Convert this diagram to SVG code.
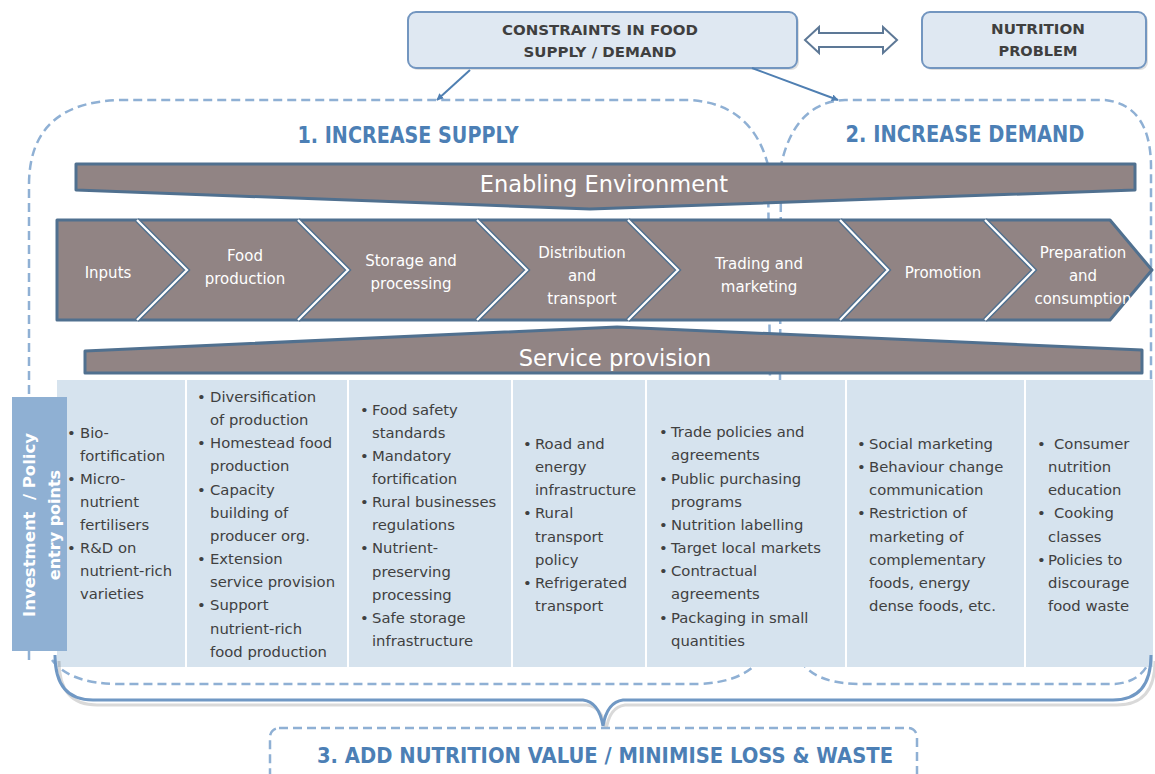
<svg xmlns="http://www.w3.org/2000/svg" width="1155" height="774" viewBox="0 0 1155 774">
<style>
.box{fill:#dfe8f2;stroke:#7396c0;stroke-width:2}
.boxt{font-family:"DejaVu Sans","Liberation Sans",sans-serif;font-weight:bold;font-size:14.5px;fill:#3f3f3f;text-anchor:middle}
.hdr{font-family:"DejaVu Sans","Liberation Sans",sans-serif;font-weight:bold;fill:#4c7fb5;text-anchor:middle}
.dash{fill:none;stroke:#8fb0d4;stroke-width:2.5;stroke-dasharray:9 5}
.bar{fill:#918484;stroke:#50708f;stroke-width:3;stroke-linejoin:round}
.bart{font-family:"DejaVu Sans","Liberation Sans",sans-serif;font-size:22.5px;fill:#ffffff;text-anchor:middle}
.sep1{fill:none;stroke:#50708f;stroke-width:5}
.sep2{fill:none;stroke:#ffffff;stroke-width:2.2}
.ct{font-family:"DejaVu Sans","Liberation Sans",sans-serif;font-size:15px;fill:#ffffff;text-anchor:middle}
.it{font-family:"DejaVu Sans","Liberation Sans",sans-serif;font-size:14.8px;fill:#404040}
.conn{fill:none;stroke:#4f7fb2;stroke-width:2}
.brace{fill:none;stroke:#7098c4;stroke-width:3}
</style>
<defs>
<marker id="ah" viewBox="0 0 10 10" refX="9" refY="5" markerWidth="7" markerHeight="7" orient="auto" markerUnits="userSpaceOnUse">
<path d="M0,0 L10,5 L0,10 z" fill="#4f7fb2"/>
</marker>
</defs>
<rect width="1155" height="774" fill="#ffffff"/>

<g id="regions">
<path class="dash" d="M29,660 L29,185 Q29,100 125,100 L690,100 Q752,104 768,165 L770,380"/>
<path class="dash" d="M780,380 L781,165 Q795,102 845,100 L1105,100 Q1150,105 1151,165 L1151,660"/>
<path class="dash" d="M52,660 Q70,684 120,684 L700,684 Q742,682 760,660"/>
<path class="dash" d="M800,660 Q815,684 860,684 L1115,684 Q1140,682 1149,662"/>
</g>

<g id="n_constraints">
<rect x="410" y="14" width="389" height="56" rx="8" fill="#000" opacity="0.12"/>
<rect class="box" x="408" y="12" width="389" height="56" rx="8"/>
<text class="boxt" x="600" y="35" textLength="196" lengthAdjust="spacingAndGlyphs">CONSTRAINTS IN FOOD</text>
<text class="boxt" x="600" y="57" textLength="153" lengthAdjust="spacingAndGlyphs">SUPPLY / DEMAND</text>
</g>
<g id="n_nutrition">
<rect x="924" y="14" width="224" height="56" rx="8" fill="#000" opacity="0.12"/>
<rect class="box" x="922" y="12" width="224" height="56" rx="8"/>
<text class="boxt" x="1038" y="34" textLength="94" lengthAdjust="spacingAndGlyphs">NUTRITION</text>
<text class="boxt" x="1038" y="56" textLength="79" lengthAdjust="spacingAndGlyphs">PROBLEM</text>
</g>

<g id="connectors">
<polygon points="805,40 819,27 819,33 883,33 883,27 897,40 883,53 883,47 819,47 819,53" fill="#ffffff" stroke="#5d7896" stroke-width="2" stroke-linejoin="miter"/>
<line class="conn" x1="470" y1="70" x2="437" y2="100" marker-end="url(#ah)"/>
<line class="conn" x1="752" y1="68" x2="838" y2="100" marker-end="url(#ah)"/>
</g>

<g id="n_supply">
<text class="hdr" x="408" y="143" font-size="23" textLength="221" lengthAdjust="spacingAndGlyphs">1. INCREASE SUPPLY</text>
</g>
<g id="n_demand">
<text class="hdr" x="965" y="142" font-size="23" textLength="239" lengthAdjust="spacingAndGlyphs">2. INCREASE DEMAND</text>
</g>

<g id="n_enabling">
<path class="bar" d="M76,164 L1135,164 L1135,190 L590,209 L76,190 Z"/>
<text class="bart" x="604" y="192">Enabling Environment</text>
</g>

<g id="n_chain">
<path class="bar" d="M57,220 L1110,220 L1152,270 L1110,320 L57,320 Z"/>
<polyline class="sep1" points="137,220 187,270 137,320"/>
<polyline class="sep2" points="137,220 187,270 137,320"/>
<polyline class="sep1" points="298,220 348,270 298,320"/>
<polyline class="sep2" points="298,220 348,270 298,320"/>
<polyline class="sep1" points="477,220 527,270 477,320"/>
<polyline class="sep2" points="477,220 527,270 477,320"/>
<polyline class="sep1" points="628,220 678,270 628,320"/>
<polyline class="sep2" points="628,220 678,270 628,320"/>
<polyline class="sep1" points="840,220 888,270 840,320"/>
<polyline class="sep2" points="840,220 888,270 840,320"/>
<polyline class="sep1" points="985,220 1034,270 985,320"/>
<polyline class="sep2" points="985,220 1034,270 985,320"/>
<text class="ct" x="108" y="278">Inputs</text>
<text class="ct" x="245" y="261">Food</text>
<text class="ct" x="245" y="284">production</text>
<text class="ct" x="411" y="266">Storage and</text>
<text class="ct" x="411" y="289">processing</text>
<text class="ct" x="582" y="258">Distribution</text>
<text class="ct" x="582" y="281">and</text>
<text class="ct" x="582" y="304">transport</text>
<text class="ct" x="759" y="269">Trading and</text>
<text class="ct" x="759" y="292">marketing</text>
<text class="ct" x="943" y="278">Promotion</text>
<text class="ct" x="1083" y="258">Preparation</text>
<text class="ct" x="1083" y="281">and</text>
<text class="ct" x="1083" y="304">consumption</text>
</g>

<g id="n_service">
<path class="bar" d="M85,351 L617,327 L1142,350 L1142,373 L85,373 Z"/>
<text class="bart" x="615" y="366">Service provision</text>
</g>

<g id="n_table">
<rect x="57" y="380" width="1096" height="287" fill="#d6e3ee"/>
<g stroke="#ffffff" stroke-width="2">
<line x1="186" y1="380" x2="186" y2="667"/>
<line x1="348" y1="380" x2="348" y2="667"/>
<line x1="512" y1="380" x2="512" y2="667"/>
<line x1="646" y1="380" x2="646" y2="667"/>
<line x1="846" y1="380" x2="846" y2="667"/>
<line x1="1025" y1="380" x2="1025" y2="667"/>
</g>
</g>

<g id="n_col1" class="it">
<text x="67" y="438">•</text><text x="80" y="438">Bio-</text>
<text x="80" y="461">fortification</text>
<text x="67" y="484">•</text><text x="80" y="484">Micro-</text>
<text x="80" y="507">nutrient</text>
<text x="80" y="530">fertilisers</text>
<text x="67" y="553">•</text><text x="80" y="553">R&amp;D on</text>
<text x="80" y="576">nutrient-rich</text>
<text x="80" y="599">varieties</text>
</g>
<g id="n_col2" class="it">
<text x="197" y="402">•</text><text x="210" y="402">Diversification</text>
<text x="210" y="425">of production</text>
<text x="197" y="448">•</text><text x="210" y="448">Homestead food</text>
<text x="210" y="471">production</text>
<text x="197" y="495">•</text><text x="210" y="495">Capacity</text>
<text x="210" y="518">building of</text>
<text x="210" y="541">producer org.</text>
<text x="197" y="564">•</text><text x="210" y="564">Extension</text>
<text x="210" y="587">service provision</text>
<text x="197" y="610">•</text><text x="210" y="610">Support</text>
<text x="210" y="634">nutrient-rich</text>
<text x="210" y="657">food production</text>
</g>
<g id="n_col3" class="it">
<text x="360" y="415">•</text><text x="372" y="415">Food safety</text>
<text x="372" y="438">standards</text>
<text x="360" y="461">•</text><text x="372" y="461">Mandatory</text>
<text x="372" y="484">fortification</text>
<text x="360" y="507">•</text><text x="372" y="507">Rural businesses</text>
<text x="372" y="530">regulations</text>
<text x="360" y="553">•</text><text x="372" y="553">Nutrient-</text>
<text x="372" y="577">preserving</text>
<text x="372" y="600">processing</text>
<text x="360" y="623">•</text><text x="372" y="623">Safe storage</text>
<text x="372" y="646">infrastructure</text>
</g>
<g id="n_col4" class="it">
<text x="523" y="449">•</text><text x="535" y="449">Road and</text>
<text x="535" y="472">energy</text>
<text x="535" y="495">infrastructure</text>
<text x="523" y="518">•</text><text x="535" y="518">Rural</text>
<text x="535" y="542">transport</text>
<text x="535" y="565">policy</text>
<text x="523" y="588">•</text><text x="535" y="588">Refrigerated</text>
<text x="535" y="611">transport</text>
</g>
<g id="n_col5" class="it">
<text x="659" y="437">•</text><text x="671" y="437">Trade policies and</text>
<text x="671" y="460">agreements</text>
<text x="659" y="484">•</text><text x="671" y="484">Public purchasing</text>
<text x="671" y="507">programs</text>
<text x="659" y="530">•</text><text x="671" y="530">Nutrition labelling</text>
<text x="659" y="553">•</text><text x="671" y="553">Target local markets</text>
<text x="659" y="576">•</text><text x="671" y="576">Contractual</text>
<text x="671" y="599">agreements</text>
<text x="659" y="623">•</text><text x="671" y="623">Packaging in small</text>
<text x="671" y="646">quantities</text>
</g>
<g id="n_col6" class="it">
<text x="857" y="449">•</text><text x="869" y="449">Social marketing</text>
<text x="857" y="472">•</text><text x="869" y="472">Behaviour change</text>
<text x="869" y="495">communication</text>
<text x="857" y="518">•</text><text x="869" y="518">Restriction of</text>
<text x="869" y="542">marketing of</text>
<text x="869" y="565">complementary</text>
<text x="869" y="588">foods, energy</text>
<text x="869" y="611">dense foods, etc.</text>
</g>
<g id="n_col7" class="it">
<text x="1037" y="449">•</text><text x="1054" y="449">Consumer</text>
<text x="1048" y="472">nutrition</text>
<text x="1048" y="495">education</text>
<text x="1037" y="518">•</text><text x="1054" y="518">Cooking</text>
<text x="1048" y="542">classes</text>
<text x="1037" y="565">•</text><text x="1048" y="565">Policies to</text>
<text x="1048" y="588">discourage</text>
<text x="1048" y="611">food waste</text>
</g>

<g id="n_sidelabel">
<rect x="12" y="397" width="55" height="254" fill="#8fb0d3"/>
<g font-family="DejaVu Sans, Liberation Sans, sans-serif" font-weight="bold" font-size="16" fill="#ffffff" text-anchor="middle">
<text transform="translate(35,525) rotate(-90)" textLength="184" lengthAdjust="spacingAndGlyphs" xml:space="preserve">Investment  / Policy</text>
<text transform="translate(60,525) rotate(-90)">entry points</text>
</g>
</g>

<g id="n_brace">
<path d="M57,658 Q57,702 95,702 L585,702 Q601,704 604,728 Q607,704 623,702 L1115,702 Q1153,702 1153,658" fill="none" stroke="#000" stroke-width="3" opacity="0.15" transform="translate(2,3)"/>
<path class="brace" d="M55,655 Q55,700 93,700 L583,700 Q599,702 603,726 Q607,702 623,700 L1113,700 Q1151,700 1151,655"/>
</g>

<g id="n_addvalue">
<rect x="270" y="728" width="647" height="60" rx="9" fill="#ffffff" stroke="#8fb0d4" stroke-width="2.5" stroke-dasharray="9 5"/>
<text class="hdr" x="605" y="763" font-size="22" textLength="576" lengthAdjust="spacingAndGlyphs">3. ADD NUTRITION VALUE / MINIMISE LOSS &amp; WASTE</text>
</g>
</svg>
